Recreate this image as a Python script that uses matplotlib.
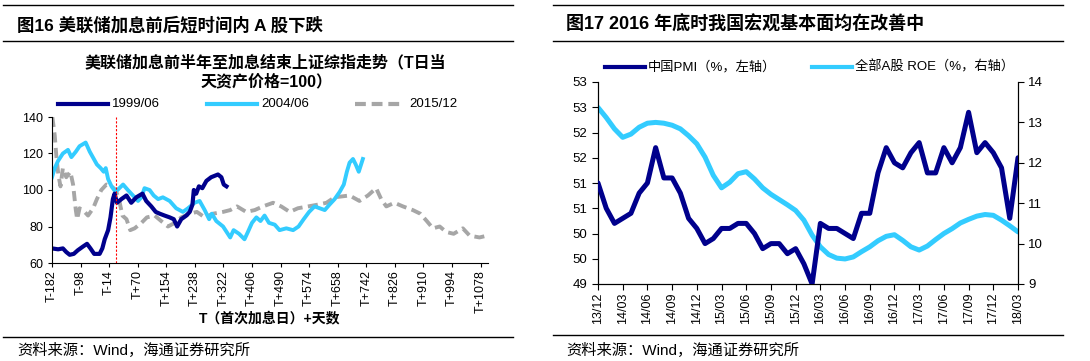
import matplotlib
matplotlib.use("Agg")
import matplotlib.pyplot as plt
from matplotlib.lines import Line2D

plt.rcParams['font.family'] = ['Liberation Sans', 'Noto Sans CJK SC']
plt.rcParams['axes.unicode_minus'] = False

# ---- 图16 数据：T日为0，横轴为天数 ----
dias_1999 = [-182, -164, -150, -140, -130, -118, -106, -91, -79, -69, -58, -42, -34, -27, -17, -10, -3, 2, 9,
             22, 37, 51, 66, 84, 95, 110, 123, 135, 149, 164, 176, 186, 198, 213, 223, 231, 235, 242, 250,
             260, 272, 286, 306, 316, 323, 331]
val_1999 = [68, 67.5, 68, 66, 64.5, 65, 67, 69, 70.5, 68, 65, 65, 68, 73, 78, 85, 95, 98, 93,
            95, 97, 93, 96, 98, 94, 91, 88, 87, 86, 85, 84, 80, 84, 86, 88, 92, 100, 98, 102,
            101, 105, 107, 108.5, 107, 103, 102]

dias_2004 = [-182, -174, -164, -150, -135, -125, -112, -101, -83, -71, -59, -50, -39, -30, -24, -17, -7, 5,
             27, 41, 56, 71, 81, 90, 105, 117, 130, 144, 164, 183, 203, 218, 237, 252, 267, 280, 288, 301,
             321, 335, 342, 352, 368, 384, 394, 406, 419, 431, 443, 456, 473, 487, 507, 527, 543, 558,
             574, 590, 620, 634, 649, 664, 676, 685, 693, 703, 711, 720, 732]
val_2004 = [107, 112, 116, 120, 122, 118, 121, 124, 126, 121, 117, 114, 112, 110, 112, 106, 102, 99,
            103, 100, 97, 94, 96, 101, 100, 97, 95, 96, 94, 90, 88, 90, 93, 94, 89, 84, 87, 83,
            80, 76, 74, 78, 76, 73, 77, 82, 85, 83, 86, 82, 81, 78, 79, 78, 80, 84,
            88, 91, 89, 92, 95, 99, 103, 110, 115, 117, 114, 110, 117]

dias_2015 = [-181, -174, -169, -163, -157, -150, -140, -128, -120, -112, -108, -101, -86, -76, -61, -50, -37,
             -22, -7, 5, 15, 25, 37, 48, 61, 81, 97, 120, 139, 159, 179, 198, 223, 244, 267, 291, 321,
             342, 362, 389, 414, 438, 468, 492, 517, 541, 571, 600, 625, 649, 693, 722, 747, 771, 786,
             801, 825, 850, 879, 901, 920, 938, 958, 977, 999, 1026, 1046, 1075, 1097]
val_2015 = [140, 130, 118, 108, 102, 112, 107, 110, 103, 89, 84, 90, 88, 86, 90, 95, 100,
            103, 102, 100, 95, 86, 84, 78, 79, 82, 85, 86, 83, 80, 82, 85, 87, 88, 85, 87, 88,
            89, 91, 88, 89, 91, 93, 91, 88, 90, 91, 92, 93, 96, 97, 94, 97, 101, 95,
            91, 93, 91, 89, 87, 83, 79, 80, 77, 76, 79, 75, 74, 75]

ticks_izq = list(range(-182, 1079, 84))
etiq_izq = ["T-%d" % -t if t < 0 else "T+%d" % t for t in ticks_izq]

# ---- 图17 数据：月度，13/12 - 18/03 ----
pmi = [51.0, 50.5, 50.2, 50.3, 50.4, 50.8, 51.0, 51.7, 51.1, 51.1, 50.8, 50.3, 50.1,
       49.8, 49.9, 50.1, 50.1, 50.2, 50.2, 50.0, 49.7, 49.8, 49.8, 49.6, 49.7,
       49.4, 49.0, 50.2, 50.1, 50.1, 50.0, 49.9, 50.4, 50.4, 51.2, 51.7, 51.4,
       51.3, 51.6, 51.8, 51.2, 51.2, 51.7, 51.4, 51.7, 52.4, 51.6, 51.8, 51.6,
       51.3, 50.3, 51.5]
roe = [13.37, 13.12, 12.84, 12.63, 12.71, 12.88, 12.98, 13.0, 12.98, 12.93, 12.84, 12.67, 12.47,
       12.14, 11.69, 11.38, 11.52, 11.73, 11.78, 11.6, 11.38, 11.22, 11.09, 10.96, 10.82,
       10.58, 10.21, 9.92, 9.73, 9.64, 9.62, 9.67, 9.8, 9.92, 10.07, 10.18, 10.22,
       10.08, 9.92, 9.84, 9.94, 10.1, 10.25, 10.37, 10.51, 10.6, 10.68, 10.72, 10.7,
       10.58, 10.44, 10.29]
etiq_der = ["13/12", "14/03", "14/06", "14/09", "14/12", "15/03", "15/06", "15/09", "15/12",
            "16/03", "16/06", "16/09", "16/12", "17/03", "17/06", "17/09", "17/12", "18/03"]
ticks_pmi = [49, 49.5, 50, 50.5, 51, 51.5, 52, 52.5, 53]
etiq_pmi = ["49", "50", "50", "51", "51", "52", "52", "53", "53"]

azul = '#00008C'
celeste = '#33CCFF'
gris = '#A6A6A6'

W, H = 1090, 361
fig = plt.figure(figsize=(W / 100, H / 100), dpi=100)

def px(x, y):
    return x / W, 1 - y / H

def linea_h(x0, x1, y, lw=1.0):
    a, b = px(x0, y)
    c, _ = px(x1, y)
    fig.add_artist(Line2D([a, c], [b, b], color='black', lw=lw))

# ---------- 图16 ----------
ax = fig.add_axes([52 / W, 1 - 263 / H, 436 / W, 146 / H])
ax.plot(dias_2015, val_2015, color=gris, lw=2.8, dashes=(2.6, 1.4), solid_capstyle='butt')
ax.plot(dias_2004, val_2004, color=celeste, lw=2.8, solid_joinstyle='round')
ax.plot(dias_1999, val_1999, color=azul, lw=3.0, solid_joinstyle='round')
ax.axvline(6, color='red', lw=0.8, ls=(0, (2, 1.5)))
ax.set_xlim(-182, 1100)
ax.set_ylim(60, 140)
ax.set_yticks([60, 80, 100, 120, 140])
ax.set_xticks(ticks_izq)
ax.set_xticklabels(etiq_izq, rotation=90, fontsize=9)
ax.tick_params(axis='y', labelsize=9, length=3, width=0.8)
ax.tick_params(axis='x', length=3, width=0.8, pad=2)
for s in ['top', 'right']:
    ax.spines[s].set_visible(False)
for s in ['left', 'bottom']:
    ax.spines[s].set_linewidth(0.8)

linea_h(3, 513, 5)
fig.text(*px(17, 25), "图16 美联储加息前后短时间内 A 股下跌", fontsize=12.5, fontweight='bold', va='center')
linea_h(3, 513, 41)
fig.text(*px(265, 62), "美联储加息前半年至加息结束上证综指走势（T日当", fontsize=11.5, fontweight='bold',
         ha='center', va='center')
fig.text(*px(267, 82), "天资产价格=100）", fontsize=11.5, fontweight='bold', ha='center', va='center')

leyenda_izq = [(58, '1999/06', azul, '-'), (207, '2004/06', celeste, '-'), (355, '2015/12', gris, '--')]
for x0, txt, col, estilo in leyenda_izq:
    a, b = px(x0, 104)
    c, _ = px(x0 + 50, 104)
    if estilo == '-':
        fig.add_artist(Line2D([a, c], [b, b], color=col, lw=3))
    else:
        fig.add_artist(Line2D([a, c], [b, b], color=col, lw=3, dashes=(2.6, 1.4)))
    fig.text(*px(x0 + 54, 104), txt, fontsize=9.5, va='center')

fig.text(*px(270, 318), "T（首次加息日）+天数", fontsize=10, fontweight='bold', ha='center', va='center')
linea_h(3, 513, 337)
fig.text(*px(17, 350), "资料来源：Wind，海通证券研究所", fontsize=11, va='center')

# ---------- 图17 ----------
ax2 = fig.add_axes([598 / W, 1 - 284 / H, 420 / W, 202 / H])
ax2.plot(range(len(pmi)), pmi, color=azul, lw=3.6, solid_joinstyle='round', solid_capstyle='round', zorder=3)
ax2.set_xlim(0, 51)
ax2.set_ylim(49, 53)
ax2.set_yticks(ticks_pmi)
ax2.set_yticklabels(etiq_pmi)
ax2.set_xticks(range(0, 52, 3))
ax2.set_xticklabels(etiq_der, rotation=90, fontsize=9)
ax2.tick_params(axis='y', labelsize=9.5, length=4, width=0.8)
ax2.tick_params(axis='x', length=4, width=0.8, pad=2)
ax2.spines['top'].set_visible(False)

ax3 = ax2.twinx()
ax3.plot(range(len(roe)), roe, color=celeste, lw=3.6, solid_joinstyle='round', solid_capstyle='round', zorder=2)
ax3.set_ylim(9, 14)
ax3.set_yticks([9, 10, 11, 12, 13, 14])
ax3.tick_params(axis='y', labelsize=9.5, length=4, width=0.8)
ax3.spines['top'].set_visible(False)
ax2.set_zorder(ax3.get_zorder() + 1)
ax2.patch.set_visible(False)

linea_h(553, 1063, 5)
fig.text(*px(566, 25), "图17 2016 年底时我国宏观基本面均在改善中", fontsize=13, fontweight='bold', va='center')
linea_h(553, 1063, 41)
leyenda_der = [(605, '中国PMI（%，左轴）', azul), (812, '全部A股 ROE（%，右轴）', celeste)]
for x0, txt, col in leyenda_der:
    a, b = px(x0, 67)
    c, _ = px(x0 + 40, 67)
    fig.add_artist(Line2D([a, c], [b, b], color=col, lw=3))
    fig.text(*px(x0 + 43, 67), txt, fontsize=9.5, va='center')
linea_h(553, 1063, 335)
fig.text(*px(566, 350), "资料来源：Wind，海通证券研究所", fontsize=11, va='center')

fig.savefig("out.png", dpi=100)
